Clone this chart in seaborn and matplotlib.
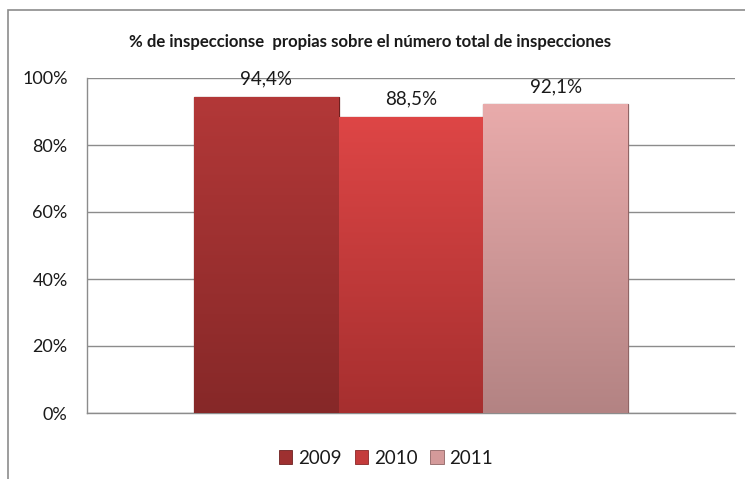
import numpy as np
import pandas as pd
import matplotlib
matplotlib.use("Agg")
import matplotlib.pyplot as plt
import seaborn as sns
from matplotlib.colors import LinearSegmentedColormap
from matplotlib.patches import Rectangle

# datos
years = ["2009", "2010", "2011"]
values = [94.4, 88.5, 92.1]
value_labels = ["94,4%", "88,5%", "92,1%"]
y_ticks = [0, 20, 40, 60, 80, 100]
y_tick_labels = ["0%", "20%", "40%", "60%", "80%", "100%"]
title = "% de inspeccionse  propias sobre el número total de inspecciones"

# colores (arriba / abajo del degradado)
top_colors = ["#B33838", "#DE4646", "#E9ABAB"]
bottom_colors = ["#862828", "#A62F2F", "#B38383"]
mid_colors = ["#9E3030", "#C43B3B", "#D49A9A"]
edge_colors = ["#6E2020", "#8A2626", "#8F6565"]

df = pd.DataFrame({"grupo": [""] * len(years), "anio": years, "valor": values})

sns.set_style("white")
plt.rcParams["font.family"] = ["Lato", "DejaVu Sans"]

W, H = 745, 479
fig = plt.figure(figsize=(W / 100, H / 100), dpi=100)
ax = fig.add_axes([87 / W, (H - 413) / H, (735 - 87) / W, 335 / H])

sns.barplot(data=df, x="grupo", y="valor", hue="anio", palette=mid_colors,
            width=0.67, gap=0, legend=False, ax=ax, zorder=3)

# degradado vertical en cada barra
for i, cont in enumerate(ax.containers):
    for bar in cont:
        bar.set_edgecolor(edge_colors[i])
        bar.set_linewidth(0.9)
        x0, w, h = bar.get_x(), bar.get_width(), bar.get_height()
        cmap = LinearSegmentedColormap.from_list("g", [bottom_colors[i], top_colors[i]])
        grad = np.linspace(0, 1, 256).reshape(-1, 1)
        im = ax.imshow(grad, cmap=cmap, origin="lower", aspect="auto",
                       extent=[x0, x0 + w, 0, h], zorder=3.5)
        im.set_clip_path(bar)
        # etiqueta de valor
        ax.annotate(value_labels[i], (x0 + w / 2, h), xytext=(0, 13),
                    textcoords="offset points", ha="center", va="center",
                    fontsize=13.5, color="#1a1a1a")

ax.set_xlim(-0.5, 0.5)
ax.set_ylim(0, 100)
ax.set_yticks(y_ticks)
ax.set_yticklabels(y_tick_labels)
ax.set_xticks([])
ax.set_xlabel("")
ax.set_ylabel("")
ax.tick_params(axis="y", length=0, pad=14, labelsize=13, labelcolor="#1a1a1a")
ax.grid(axis="y", color="#8C8C8C", linewidth=1, zorder=0)
ax.set_axisbelow(True)
for s in ["top", "right"]:
    ax.spines[s].set_visible(False)
for s in ["left", "bottom"]:
    ax.spines[s].set_color("#8C8C8C")
    ax.spines[s].set_linewidth(1)

fig.text(370 / W, 1 - 42 / H, title, ha="center", va="center",
         fontsize=12.1, fontweight="bold", color="#1a1a1a")

handles = [Rectangle((0, 0), 1, 1, facecolor=c, edgecolor=b, linewidth=0.6)
           for c, b in zip(mid_colors, edge_colors)]
fig.legend(handles, years, loc="center", bbox_to_anchor=(386 / W, 1 - 458 / H),
           ncol=3, frameon=False, fontsize=13.5, handlelength=0.7, handleheight=0.7,
           handletextpad=0.32, columnspacing=0.7, labelcolor="#1a1a1a")

# marco del gráfico
fig.patches.append(Rectangle((8 / W, -0.1), 1.2, 1 - 10 / H + 0.1,
                             transform=fig.transFigure, fill=False,
                             edgecolor="#8C8C8C", linewidth=1.2))

fig.savefig("out.png", dpi=100, facecolor="white")
